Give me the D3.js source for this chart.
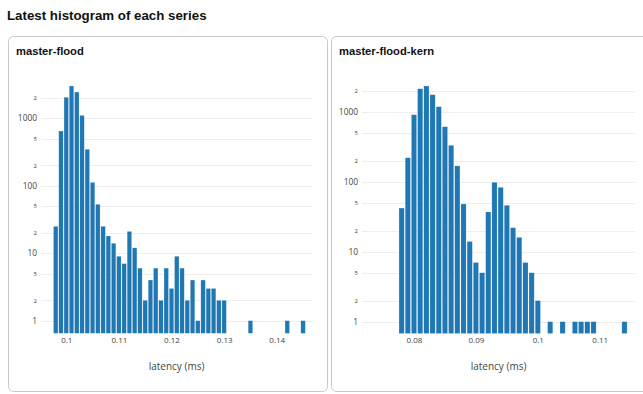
<!DOCTYPE html>
<html>
<head>
<meta charset="utf-8">
<script src="https://cdn.jsdelivr.net/npm/d3@7"></script>
<style>
  body { margin: 0; background: #fff; }
  svg { display: block; }
  .tick text { font-family: "Open Sans", verdana, arial, sans-serif; fill: #444; }
</style>
</head>
<body>
<svg id="chart" width="643" height="394"></svg>
<script>
// histogram bins (bin centres, ms) and counts
var floodBins = [0.098, 0.099, 0.100, 0.101, 0.102, 0.103, 0.104, 0.105, 0.106, 0.107,
                 0.108, 0.109, 0.110, 0.111, 0.112, 0.113, 0.114, 0.115, 0.116, 0.117,
                 0.118, 0.119, 0.120, 0.121, 0.122, 0.123, 0.124, 0.125, 0.126, 0.127,
                 0.128, 0.129, 0.130, 0.135, 0.142, 0.145];
var floodCounts = [25, 646, 2040, 3000, 2440, 1100, 346, 112, 53, 25,
                   18, 14, 9, 7, 21, 12, 6, 2, 4, 6,
                   2, 6, 3, 9, 6, 2, 4, 1, 4, 3,
                   3, 2, 2, 1, 1, 1];

var kernBins = [0.078, 0.079, 0.080, 0.081, 0.082, 0.083, 0.084, 0.085, 0.086, 0.087,
                0.088, 0.089, 0.090, 0.091, 0.092, 0.093, 0.094, 0.095, 0.096, 0.097,
                0.098, 0.099, 0.100, 0.102, 0.104, 0.106, 0.107, 0.108, 0.109, 0.114];
var kernCounts = [42, 220, 906, 2130, 2330, 1750, 1180, 611, 331, 168,
                  48, 14, 7, 5, 37, 98, 83, 46, 22, 16,
                  7, 5, 2, 1, 1, 1, 1, 1, 1, 1];

var binWidth = 0.001;
var yTicks = [1, 2, 5, 10, 20, 50, 100, 200, 500, 1000, 2000];
var floodXTicks = [0.1, 0.11, 0.12, 0.13, 0.14];
var kernXTicks = [0.08, 0.09, 0.1, 0.11];

var svg = d3.select("#chart");

svg.append("text")
   .attr("x", 7)
   .attr("y", 20)
   .attr("font-family", "'Liberation Sans', Arial, sans-serif")
   .attr("font-weight", "bold")
   .attr("font-size", 13.3)
   .attr("fill", "#111")
   .text("Latest histogram of each series");

function isDecade(d) {
    var p = Math.log10(d);
    return Math.abs(p - Math.round(p)) < 1e-9;
}

function panel(opts) {
    var g = svg.append("g");

    g.append("rect")
     .attr("x", opts.cardX + 0.5)
     .attr("y", 36.5)
     .attr("width", opts.cardW)
     .attr("height", 355)
     .attr("rx", 5)
     .attr("fill", "#fff")
     .attr("stroke", "#c8c8c8");

    g.append("text")
     .attr("x", opts.cardX + 8)
     .attr("y", 55)
     .attr("font-family", "'Liberation Sans', Arial, sans-serif")
     .attr("font-weight", "bold")
     .attr("font-size", 11.2)
     .attr("fill", "#111")
     .text(opts.name);

    var xScale = d3.scaleLinear()
        .domain(opts.xDomain)
        .range(opts.xRange);

    var yScale = d3.scaleLog()
        .domain(opts.yDomain)
        .range([opts.bottom, 74]);

    // gridlines
    g.append("g")
     .selectAll("line")
     .data(yTicks)
     .enter()
     .append("line")
     .attr("x1", opts.xRange[0])
     .attr("x2", opts.xRange[1])
     .attr("y1", (d) => Math.round(yScale(d)) + 0.5)
     .attr("y2", (d) => Math.round(yScale(d)) + 0.5)
     .attr("stroke", "#eee");

    var yAxis = d3.axisLeft(yScale)
        .tickValues(yTicks)
        .tickSize(0)
        .tickPadding(4)
        .tickFormat((d) => isDecade(d) ? String(d) : String(d).charAt(0));

    var ya = g.append("g")
       .attr("transform", "translate(" + opts.xRange[0] + ",0)")
       .call(yAxis);
    ya.select(".domain").remove();
    ya.selectAll(".tick text")
      .attr("font-size", (d) => isDecade(d) ? 8.4 : 6);

    var data = opts.bins.map((b, i) => ({bin: b, count: opts.counts[i]}));

    g.append("g")
     .selectAll("rect")
     .data(data)
     .enter()
     .append("rect")
     .attr("x", (d) => xScale(d.bin - binWidth * 0.42))
     .attr("width", (d) => xScale(d.bin + binWidth * 0.42) - xScale(d.bin - binWidth * 0.42))
     .attr("y", (d) => yScale(d.count))
     .attr("height", (d) => opts.bottom - yScale(d.count))
     .attr("fill", "#1f77b4")
     .attr("stroke", "rgba(255,255,255,0.35)")
     .attr("stroke-width", 0.5);

    var xAxis = d3.axisBottom(xScale)
        .tickValues(opts.xTicks)
        .tickSize(0)
        .tickPadding(4)
        .tickFormat((d) => String(+d.toFixed(3)));

    var xa = g.append("g")
       .attr("transform", "translate(0," + opts.bottom + ")")
       .call(xAxis);
    xa.select(".domain").remove();
    xa.selectAll(".tick text").attr("font-size", 8);

    g.append("text")
     .attr("x", (opts.xRange[0] + opts.xRange[1]) / 2)
     .attr("y", 370)
     .attr("text-anchor", "middle")
     .attr("font-family", "'Open Sans', verdana, arial, sans-serif")
     .attr("font-size", 10)
     .attr("fill", "#444")
     .text("latency (ms)");
}

panel({
    name: "master-flood",
    cardX: 8, cardW: 319,
    bins: floodBins, counts: floodCounts,
    xDomain: [0.0952, 0.1467], xRange: [41, 312],
    yDomain: [Math.pow(10, -0.187), Math.pow(10, 3.655)], bottom: 333.3,
    xTicks: floodXTicks
});

panel({
    name: "master-flood-kern",
    cardX: 331, cardW: 330,
    bins: kernBins, counts: kernCounts,
    xDomain: [0.0716, 0.1157], xRange: [362, 635],
    yDomain: [Math.pow(10, -0.169), Math.pow(10, 3.539)], bottom: 333.5,
    xTicks: kernXTicks
});
</script>
</body>
</html>
